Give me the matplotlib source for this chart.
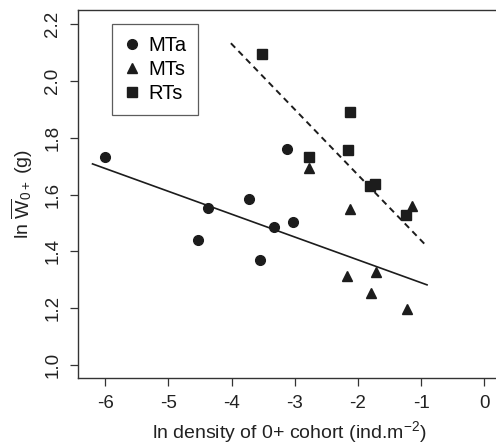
import matplotlib.pyplot as plt

plt.rcParams['font.family'] = ['Liberation Sans', 'DejaVu Sans']
plt.rcParams['mathtext.fontset'] = 'custom'
plt.rcParams['mathtext.rm'] = 'Liberation Sans'
plt.rcParams['mathtext.it'] = 'Liberation Sans'

# MTa (circles)
mta_x = [-6.01, -4.53, -4.375, -3.72, -3.55, -3.33, -3.12, -3.03]
mta_y = [1.733, 1.441, 1.552, 1.586, 1.37, 1.485, 1.76, 1.505]
# MTs (triangles)
mts_x = [-2.77, -2.117, -1.14, -2.165, -1.72, -1.79, -1.22]
mts_y = [1.695, 1.549, 1.558, 1.313, 1.329, 1.255, 1.196]
# RTs (squares)
rts_x = [-3.525, -2.123, -2.155, -2.77, -1.73, -1.81, -1.24]
rts_y = [2.095, 1.892, 1.756, 1.732, 1.637, 1.63, 1.528]

# fitted lines (end points)
fit_mt_x = [-6.2, -0.905]
fit_mt_y = [1.708, 1.282]
fit_rt_x = [-4.01, -0.905]
fit_rt_y = [2.133, 1.417]

xticks = [-6, -5, -4, -3, -2, -1, 0]
yticks = [1.0, 1.2, 1.4, 1.6, 1.8, 2.0, 2.2]

W, H = 496, 444
fig = plt.figure(figsize=(W / 100, H / 100), dpi=100)
ax = fig.add_axes([78 / W, 1 - 378 / H, (500 - 78) / W, (378 - 10) / H])

col = '#1c1c1c'
ax.plot(fit_mt_x, fit_mt_y, color=col, lw=1.2)
ax.plot(fit_rt_x, fit_rt_y, color=col, lw=1.4, ls=(0, (3.2, 2.4)))
ax.plot(mta_x, mta_y, 'o', color=col, ms=7, label='MTa', ls='none')
ax.plot(mts_x, mts_y, '^', color=col, ms=7.5, label='MTs', ls='none')
ax.plot(rts_x, rts_y, 's', color=col, ms=6.5, label='RTs', ls='none')

ax.set_xlim(-6.43, 0.25)
ax.set_ylim(0.954, 2.25)
ax.set_xticks(xticks)
ax.set_xticklabels(['%d' % t for t in xticks])
ax.set_yticks(yticks)
ax.set_yticklabels(['%.1f' % t for t in yticks], rotation=90, va='center')
ax.tick_params(direction='out', length=6, width=0.9, colors='#333333',
               labelcolor='#222222', labelsize=13.5, pad=6)
for s in ax.spines.values():
    s.set_color('#333333')
    s.set_linewidth(1.0)

ax.set_xlabel('ln density of 0+ cohort (ind.m$^{-2}$)', fontsize=14,
              color='#222222', labelpad=5)
ax.set_ylabel(r'ln $\overline{\mathrm{W}}_{0+}$ (g)', fontsize=14,
              color='#222222', labelpad=7)

leg = ax.legend(loc='upper left', bbox_to_anchor=(0.08, 0.962), fontsize=14.5,
                frameon=True, fancybox=False, edgecolor='#333333',
                handletextpad=0.4, labelspacing=0.25, borderpad=0.6,
                handlelength=0.8, borderaxespad=0)
leg.get_frame().set_linewidth(0.9)

fig.savefig('out.png', dpi=100)
